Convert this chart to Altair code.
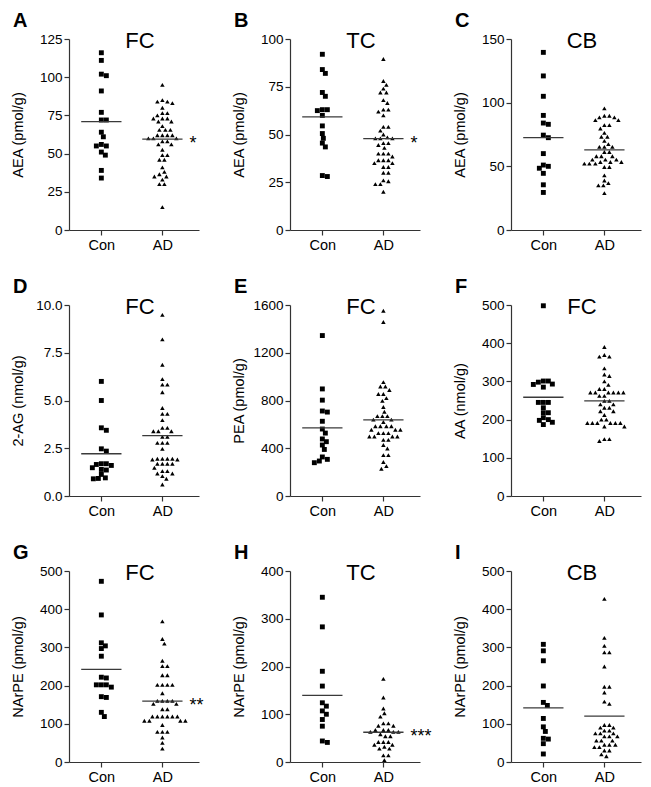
import altair as alt
import pandas as pd

# ---------------- data ----------------
groups = ["Con", "AD"]

A_con = [116, 111, 102, 101, 91, 77, 72, 72, 64, 61, 55, 55, 56, 51, 49, 39, 34]
A_ad = [95, 85, 84, 83, 84, 80, 76.5, 76.5, 75, 73, 73, 73, 71, 71, 68, 65.5, 65.5, 65.5,
        62, 62, 62, 62, 60, 60, 60, 58, 58, 56, 56, 52.5, 49, 49, 46, 46, 41, 38, 36.5,
        35, 35, 33, 30, 30, 15]

B_con = [92, 84, 82, 72, 70, 63, 63, 62.5, 60, 54.5, 50.5, 48, 45.5, 43.5, 28.5, 28]
B_ad = [89.5, 78, 76, 74, 72, 72, 68, 66.5, 63, 63, 62, 60, 54, 54, 52, 50, 48.5, 48, 48, 48,
        45.5, 45.5, 44.5, 43, 40, 40, 40, 38.5, 36.5, 36.5, 36.5, 35, 35, 33, 33, 30, 30,
        26, 25.5, 24, 24, 20]

C_con = [139.5, 121, 105, 90, 84, 83, 74.5, 72.5, 60, 51, 50, 48.5, 44.5, 35.5, 29.5]
C_ad = [95.5, 89.7, 89.7, 88.4, 88.4, 86.3, 86.3, 82.4, 82.4, 79.7, 76.3, 73.2, 73.2, 70,
        67.4, 65.3, 65.3, 65.3, 61.3, 61.3, 57.9, 57.9, 57.9, 55.3, 55.3, 55.3, 53.4, 53.4,
        53.4, 52.1, 52.1, 52.1, 49.5, 49.5, 42.9, 38.9, 36.8, 35, 35, 29]

D_con = [6.0, 5.0, 3.57, 3.44, 2.47, 2.35, 1.69, 1.69, 1.6, 1.65, 1.48, 1.39, 1.36, 1.13,
         0.95, 0.9, 0.92]
D_ad = [9.48, 8.2, 6.87, 6.12, 5.83, 5.83, 5.43, 4.61, 4.3, 4.3, 3.97, 3.57, 3.57, 3.39,
        3.39, 3.39, 3.1, 3.1, 2.78, 2.78, 2.78, 2.47, 1.95, 1.95, 1.95, 1.95, 1.91, 1.91,
        1.69, 1.69, 1.69, 1.69, 1.48, 1.3, 1.3, 1.18, 1.18, 1.04, 0.9, 0.6]

E_con = [1344, 897, 803, 712, 703, 626, 561, 527, 478, 455, 427, 390, 327, 307, 279, 293]
E_ad = [1552, 1458, 954, 917, 917, 888, 854, 854, 820, 797, 746, 706, 669, 669, 669, 640,
        640, 620, 584, 584, 584, 584, 555, 555, 555, 527, 527, 527, 498, 498, 498, 498,
        470, 470, 427, 398, 342, 342, 285, 250, 228]

F_con = [498, 301, 301, 298, 293, 292, 285, 245, 245, 245, 231, 218, 218, 205, 200, 198,
         193, 187]
F_ad = [390, 365, 365, 369, 334, 318, 314, 300, 291, 280, 280, 271, 271, 271, 271, 271, 271,
        262, 262, 249, 249, 240, 240, 231, 231, 222, 222, 212, 200, 200, 191, 191, 191, 191,
        191, 191, 182, 182, 149, 149, 144]

G_con = [473, 385, 312, 304, 297, 277, 222, 220, 202, 202, 202, 196, 171, 169, 130, 119]
G_ad = [368, 322, 310, 265, 251, 251, 227, 227, 202, 202, 202, 202, 180, 160, 160, 160, 160,
        152, 152, 138, 138, 119, 119, 119, 119, 119, 119, 108, 108, 108, 108, 97, 79, 79, 79,
        64, 50, 35]

H_con = [345, 283, 190, 159, 124, 117, 107, 100, 89, 75, 44, 41]
H_ad = [174, 135, 112, 102, 95, 81, 81, 76, 76, 67, 67, 67, 63, 63, 63, 58, 54, 54, 42, 42,
        42, 36, 36, 32, 28, 28, 14, 14, 4]

I_con = [308, 291, 265, 199, 156, 148, 114, 92, 80, 62, 60, 48, 21]
I_ad = [427, 325, 304, 287, 287, 250, 197, 197, 182, 158, 152, 97, 97, 90, 90, 82, 82, 75,
        75, 75, 67, 67, 67, 56, 56, 56, 45, 45, 45, 39, 39, 30, 30, 20, 15]

letters = ["A", "B", "C", "D", "E", "F", "G", "H", "I"]
regions = ["FC", "TC", "CB", "FC", "FC", "FC", "FC", "TC", "CB"]
ytitles = ["AEA (pmol/g)", "AEA (pmol/g)", "AEA (pmol/g)", "2-AG (nmol/g)", "PEA (pmol/g)",
           "AA (nmol/g)", "NArPE (pmol/g)", "NArPE (pmol/g)", "NArPE (pmol/g)"]
con_sets = [A_con, B_con, C_con, D_con, E_con, F_con, G_con, H_con, I_con]
ad_sets = [A_ad, B_ad, C_ad, D_ad, E_ad, F_ad, G_ad, H_ad, I_ad]
y_ticks = [[0, 25, 50, 75, 100, 125], [0, 25, 50, 75, 100], [0, 50, 100, 150],
           [0, 2.5, 5, 7.5, 10], [0, 400, 800, 1200, 1600], [0, 100, 200, 300, 400, 500],
           [0, 100, 200, 300, 400, 500], [0, 100, 200, 300, 400], [0, 100, 200, 300, 400, 500]]
y_formats = ["d", "d", "d", ".1f", "d", "d", "d", "d", "d"]
stars = ["*", "*", "", "", "", "", "**", "***", ""]

# ---------------- layout helpers ----------------
W, H = 130, 191
XMIN, XMAX = -0.53, 1.6
PX = W / (XMAX - XMIN)
FONT = "Liberation Sans"


def swarm(values, ymax, diam=4.8):
    """Simple beeswarm: horizontal pixel offsets so markers do not overlap."""
    placed = []
    offs = [0.0] * len(values)
    order = sorted(range(len(values)), key=lambda i: -values[i])
    cands = [0] + [s * k for k in range(1, 60) for s in (1, -1)]
    for i in order:
        py = values[i] / ymax * H
        for c in cands:
            if all((c - px) ** 2 + (py - qy) ** 2 >= diam ** 2 for px, qy in placed):
                break
        placed.append((c, py))
        offs[i] = c
    return offs


def panel(k):
    ticks = y_ticks[k]
    ymax = ticks[-1]
    rows = []
    for gi, (g, vals) in enumerate(zip(groups, [con_sets[k], ad_sets[k]])):
        offs = swarm(vals, ymax)
        for v, o in zip(vals, offs):
            rows.append({"group": g, "gx": gi, "value": v, "x": gi + o / PX})
    df = pd.DataFrame(rows)

    xscale = alt.Scale(domain=[XMIN, XMAX], nice=False, zero=False)
    yscale = alt.Scale(domain=[0, ymax], nice=False, zero=True)
    xaxis = alt.Axis(values=[0, 1], labelExpr="datum.value == 0 ? 'Con' : 'AD'",
                     title=None, grid=False, tickSize=5, labelPadding=3,
                     labelFontSize=14.5)
    yaxis = alt.Axis(values=ticks, format=y_formats[k], title=ytitles[k], grid=False,
                     tickSize=5, labelPadding=2, minExtent=38, maxExtent=38,
                     titlePadding=6, labelFontSize=13.5, titleFontSize=14.5)

    def X(f):
        return alt.X(f, scale=xscale, axis=xaxis)

    def Y(f):
        return alt.Y(f, scale=yscale, axis=yaxis)

    base = alt.Chart(df)
    con = base.transform_filter("datum.group == 'Con'").mark_point(
        shape="square", filled=True, size=24, color="black", opacity=1, strokeWidth=0
    ).encode(x=X("x:Q"), y=Y("value:Q"))
    ad = base.transform_filter("datum.group == 'AD'").mark_point(
        shape="triangle-up", filled=True, size=20, color="black", opacity=1, strokeWidth=0
    ).encode(x=X("x:Q"), y=Y("value:Q"))
    mean = base.transform_aggregate(m="mean(value)", groupby=["gx"]).transform_calculate(
        x1="datum.gx - 0.33", x2="datum.gx + 0.33"
    ).mark_rule(color="#3a3a3a", strokeWidth=1.3).encode(
        x=X("x1:Q"), x2="x2:Q", y=Y("m:Q"))
    layers = [con, ad, mean]
    if stars[k]:
        st = base.transform_filter("datum.gx == 1").transform_aggregate(
            m="mean(value)", groupby=["gx"]
        ).mark_text(text=stars[k], align="left", baseline="middle", dx=27, dy=5,
                    fontSize=18, color="black").encode(x=X("gx:Q"), y=Y("m:Q"))
        layers.append(st)
    lab = base.transform_aggregate(n="count()").mark_text(
        text=letters[k], align="left", baseline="alphabetic", fontSize=20,
        fontWeight="bold", color="black"
    ).encode(x=alt.value(-56), y=alt.value(-12))
    layers.append(lab)
    return alt.layer(*layers).properties(
        width=W, height=H,
        title=alt.Title(regions[k], fontSize=22, fontWeight="normal", anchor="middle",
                        offset=-59, baseline="alphabetic", dx=6, color="black"),
    )


chart = alt.concat(*[panel(k) for k in range(9)], columns=3,
                   spacing={"row": 75, "column": 91}).properties(
    bounds="flush", padding={"left": 2, "top": 3, "right": 2, "bottom": 2}
).configure_view(stroke=None).configure_axis(
    domainColor="#333", tickColor="#333", labelColor="black", titleColor="black",
    domainWidth=1.2, tickWidth=1.2, labelFont=FONT, titleFont=FONT,
    titleFontWeight="normal"
).configure_title(font=FONT).configure_text(font=FONT)

chart.save("out.html", embed_options={"renderer": "svg", "actions": False})
